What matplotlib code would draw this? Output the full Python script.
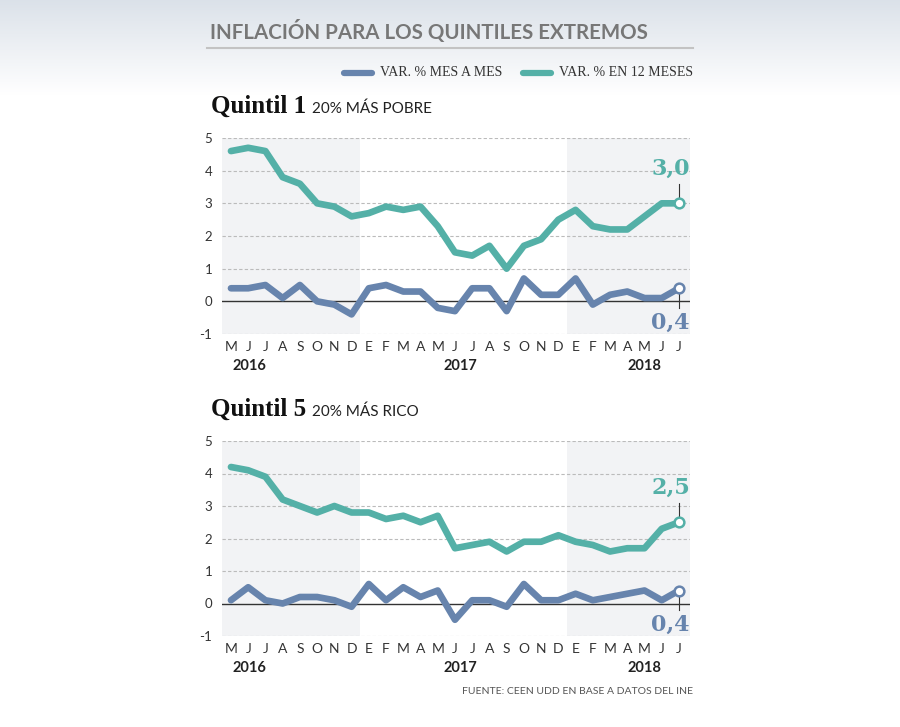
import matplotlib
matplotlib.use("Agg")
import matplotlib.pyplot as plt
import numpy as np
from matplotlib.lines import Line2D

# ---------------- data ----------------
months = ["M", "J", "J", "A", "S", "O", "N", "D",
          "E", "F", "M", "A", "M", "J", "J", "A", "S", "O", "N", "D",
          "E", "F", "M", "A", "M", "J", "J"]
years = ["2016", "2017", "2018"]
year_pos = [1.1, 13.3, 24.0]

q1_12m = [4.6, 4.7, 4.6, 3.8, 3.6, 3.0, 2.9, 2.6,
          2.7, 2.9, 2.8, 2.9, 2.3, 1.5, 1.4, 1.7, 1.0, 1.7, 1.9, 2.5,
          2.8, 2.3, 2.2, 2.2, 2.6, 3.0, 3.0]
q1_mm = [0.4, 0.4, 0.5, 0.1, 0.5, 0.0, -0.1, -0.4,
         0.4, 0.5, 0.3, 0.3, -0.2, -0.3, 0.4, 0.4, -0.3, 0.7, 0.2, 0.2,
         0.7, -0.1, 0.2, 0.3, 0.1, 0.1, 0.4]
q5_12m = [4.2, 4.1, 3.9, 3.2, 3.0, 2.8, 3.0, 2.8,
          2.8, 2.6, 2.7, 2.5, 2.7, 1.7, 1.8, 1.9, 1.6, 1.9, 1.9, 2.1,
          1.9, 1.8, 1.6, 1.7, 1.7, 2.3, 2.5]
q5_mm = [0.1, 0.5, 0.1, 0.0, 0.2, 0.2, 0.1, -0.1,
         0.6, 0.1, 0.5, 0.2, 0.4, -0.5, 0.1, 0.1, -0.1, 0.6, 0.1, 0.1,
         0.3, 0.1, 0.2, 0.3, 0.4, 0.1, 0.4]

yticks = [-1, 0, 1, 2, 3, 4, 5]
ytick_labels = ["-1", "0", "1", "2", "3", "4", "5"]

title = "INFLACIÓN PARA LOS QUINTILES EXTREMOS"
legend_labels = ["VAR. % MES A MES", "VAR. % EN 12 MESES"]
source = "FUENTE: CEEN UDD EN BASE A DATOS DEL INE"

BLUE = "#6784ad"
GREEN = "#54b0a7"
SHADE = "#f2f3f5"

W, H = 900, 727
fig = plt.figure(figsize=(W / 100, H / 100), dpi=100)
fig.patch.set_facecolor("white")

def fx(px):
    return px / W

def fy(py):
    return 1 - py / H

# background gradient at top
bg = fig.add_axes([0, fy(95), 1, 95 / H], zorder=-10)
grad = np.linspace(0, 1, 200).reshape(-1, 1)
top = np.array([0.86, 0.885, 0.915])
bot = np.array([1.0, 1.0, 1.0])
img = top[None, None, :] * (1 - grad[:, :, None]) + bot[None, None, :] * grad[:, :, None]
bg.imshow(img, aspect="auto", extent=[0, 1, 0, 1])
bg.set_axis_off()

# title and rule
fig.text(fx(210), fy(31), title, fontsize=14.8, fontweight="bold", color="#777777",
         family="Lato", va="center", ha="left")
fig.add_artist(Line2D([fx(207), fx(693)], [fy(48), fy(48)], color="#c3c3c3", lw=1.5))

# legend
fig.add_artist(Line2D([fx(344), fx(372)], [fy(73), fy(73)], color=BLUE, lw=4.5,
                      solid_capstyle="round"))
fig.text(fx(380), fy(73), legend_labels[0], fontsize=10, family="Liberation Serif",
         color="#333333", va="center", ha="left")
lg = fig.text(fx(693), fy(73), legend_labels[1], fontsize=10, family="Liberation Serif",
              color="#333333", va="center", ha="right")
fig.canvas.draw()
lx0 = lg.get_window_extent().x0
fig.add_artist(Line2D([(lx0 - 36) / W, (lx0 - 8) / W], [fy(73), fy(73)], color=GREEN,
                      lw=4.5, solid_capstyle="round"))

x = np.arange(len(months))
XL, XR = -0.52, 26.64


def panel(top_px, bottom_px, green, blue, head_y, head_bold, head_rest):
    ax = fig.add_axes([fx(222), fy(bottom_px), fx(690) - fx(222), (bottom_px - top_px) / H])
    ax.set_xlim(XL, XR)
    ax.set_ylim(-1, 5)
    ax.axvspan(XL, 7.5, color=SHADE, zorder=0, lw=0)
    ax.axvspan(19.5, XR, color=SHADE, zorder=0, lw=0)
    for yv in yticks:
        if yv == 0:
            ax.axhline(0, color="#333333", lw=1.0, zorder=1)
        else:
            ax.axhline(yv, color="#bbbbbb", lw=0.8, ls=(0, (3, 2)), zorder=1)
    ax.plot(x, green, color=GREEN, lw=4.8, solid_joinstyle="round",
            solid_capstyle="round", zorder=3)
    ax.plot(x, blue, color=BLUE, lw=4.8, solid_joinstyle="round",
            solid_capstyle="round", zorder=3)
    for vals, col, sign in [(green, GREEN, 1), (blue, BLUE, -1)]:
        xv, yv = x[-1], vals[-1]
        ax.plot([xv], [yv], marker="o", ms=7, mfc="white", mec=col, mew=1.8, zorder=5)
        ax.plot([xv, xv], [yv + sign * 0.15, yv + sign * 0.6], color="#333333",
                lw=0.8, zorder=4)
        ax.text(XR, yv + sign * 1.05, f"{yv:.1f}".replace(".", ","), color=col,
                fontsize=16, fontweight="bold", family="DejaVu Serif",
                ha="right", va="center", zorder=6)
    for s in ax.spines.values():
        s.set_visible(False)
    ax.set_yticks(yticks)
    ax.set_yticklabels(ytick_labels)
    ax.set_xticks(x)
    ax.set_xticklabels(months)
    ax.tick_params(axis="y", length=0, pad=7, labelsize=9.5, labelcolor="#333333")
    ax.tick_params(axis="x", length=0, pad=5, labelsize=10, labelcolor="#333333")
    for lab in ax.get_xticklabels() + ax.get_yticklabels():
        lab.set_family("Lato")
    for yr, xp in zip(years, year_pos):
        ax.text(xp, -1.98, yr, transform=ax.transData, ha="center", va="center",
                fontsize=10.5, fontweight="bold", family="Lato", color="#222222")
    # header
    t = fig.text(fx(211), fy(head_y), head_bold, fontsize=18, fontweight="bold",
                 family="Liberation Serif", color="#111111", va="baseline", ha="left")
    fig.canvas.draw()
    bb = t.get_window_extent()
    fig.text(bb.x1 / W + fx(6), fy(head_y), head_rest, fontsize=11, family="Lato",
             color="#222222", va="baseline", ha="left")
    return ax


panel(138, 334, q1_12m, q1_mm, 113, "Quintil 1", "20% MÁS POBRE")
panel(441, 636, q5_12m, q5_mm, 416, "Quintil 5", "20% MÁS RICO")

fig.text(fx(693), fy(691), source, fontsize=7.5, family="Lato", color="#555555",
         ha="right", va="center")

fig.savefig("out.png", dpi=100)
